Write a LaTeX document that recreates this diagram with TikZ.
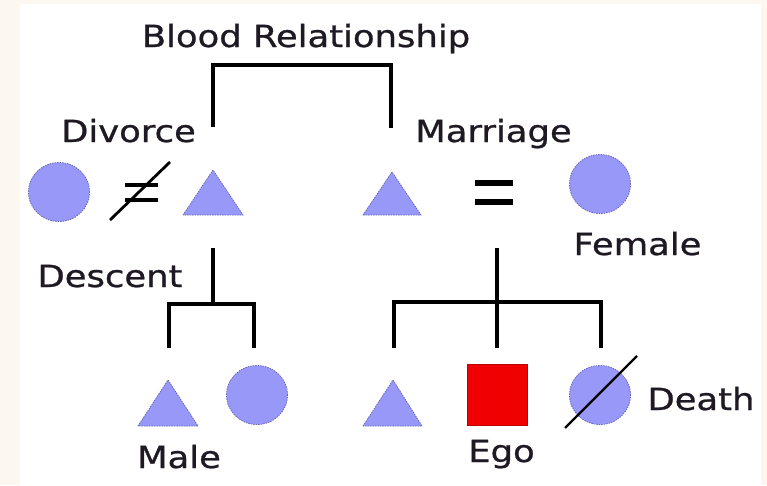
\documentclass[tikz,border=0pt]{standalone}
\usepackage{fontspec}
\setmainfont{DejaVu Sans}[FakeStretch=1.16,FakeBold=0.8]
\usetikzlibrary{shapes.geometric}
\definecolor{shapefill}{RGB}{152,152,248}
\definecolor{shapeedge}{RGB}{105,105,185}
\definecolor{ink}{RGB}{30,25,35}
\definecolor{bgbeige}{RGB}{253,248,239}
\definecolor{egored}{RGB}{240,0,0}
\tikzset{
  lbl/.style={font=\fontsize{30.5}{30.5}\selectfont, text=ink, anchor=base, inner sep=0pt},
  kin/.style={line width=3.3pt, draw=black, line join=miter},
  person/.style={fill=shapefill, draw=shapeedge, line width=0.8pt, dash pattern=on 1.5pt off 1pt},
  circperson/.style={person, ellipse, minimum width=61pt, minimum height=59pt, inner sep=0pt},
}
\begin{document}
\begin{tikzpicture}[x=1pt,y=-1pt]
\useasboundingbox (0,0) rectangle (767,485);
\fill[bgbeige] (0,0) rectangle (767,485);
\fill[white] (20,4) rectangle (761,485);

% labels
\node[lbl] (blood) at (306,47) {Blood Relationship};
\node[lbl] (divorce) at (128.5,142) {Divorce};
\node[lbl] (marriage) at (493.5,142) {Marriage};
\node[lbl] (female) at (637.5,255) {Female};
\node[lbl] (descent) at (110,287) {Descent};
\node[lbl] (death) at (701,410) {Death};
\node[lbl] (male) at (179,468) {Male};
\node[lbl] (ego) at (501.5,462) {Ego};

% row 1
\node[circperson] (wife1) at (59,192) {};
\draw[person] (183,215) -- (213,170) -- (243,215) -- cycle;
\coordinate (husb1) at (213,200);
\draw[person] (363,215) -- (392,172) -- (421,215) -- cycle;
\coordinate (husb2) at (392,200);
\node[circperson] (wife2) at (600,184) {};

% divorce sign
\draw[line width=4.5pt] (125,185) -- (158,185);
\draw[line width=4.5pt] (125,200) -- (158,200);
\draw[line width=2.8pt] (110,220) -- (170,162);
% marriage sign
\draw[line width=5.5pt] (475,183) -- (513,183);
\draw[line width=5.5pt] (475,202) -- (513,202);

% row 2
\draw[person] (138,426) -- (168,380) -- (198,426) -- cycle;
\node[circperson] (daughter) at (257,395) {};
\draw[person] (363,426) -- (393,380) -- (422,426) -- cycle;
\node[fill=egored, draw=egored!80!black, line width=0.8pt, minimum width=60pt, minimum height=61pt, inner sep=0pt] (egosq) at (497,394.5) {};
\node[circperson] (dead) at (600,395) {};
\draw[line width=2.2pt] (565,428) -- (637,356);

% blood relationship bracket
\coordinate (bl) at (213,127);
\coordinate (br) at (391,128);
\draw[kin] (bl) -- (213,65) -- (391,65) -- (br);

% descent left
\coordinate (dl0) at (213,248);
\coordinate (dl1) at (213,304);
\coordinate (dla) at (169,348);
\coordinate (dlb) at (254,348);
\draw[kin] (dl0) -- (dl1);
\draw[kin] (dla) -- (169,304) -- (254,304) -- (dlb);

% descent right
\coordinate (dr0) at (497,248);
\coordinate (drb) at (497,348);
\coordinate (dra) at (394,348);
\coordinate (drc) at (601,348);
\draw[kin] (dr0) -- (drb);
\draw[kin] (dra) -- (394,302) -- (601,302) -- (drc);
\end{tikzpicture}
\end{document}
